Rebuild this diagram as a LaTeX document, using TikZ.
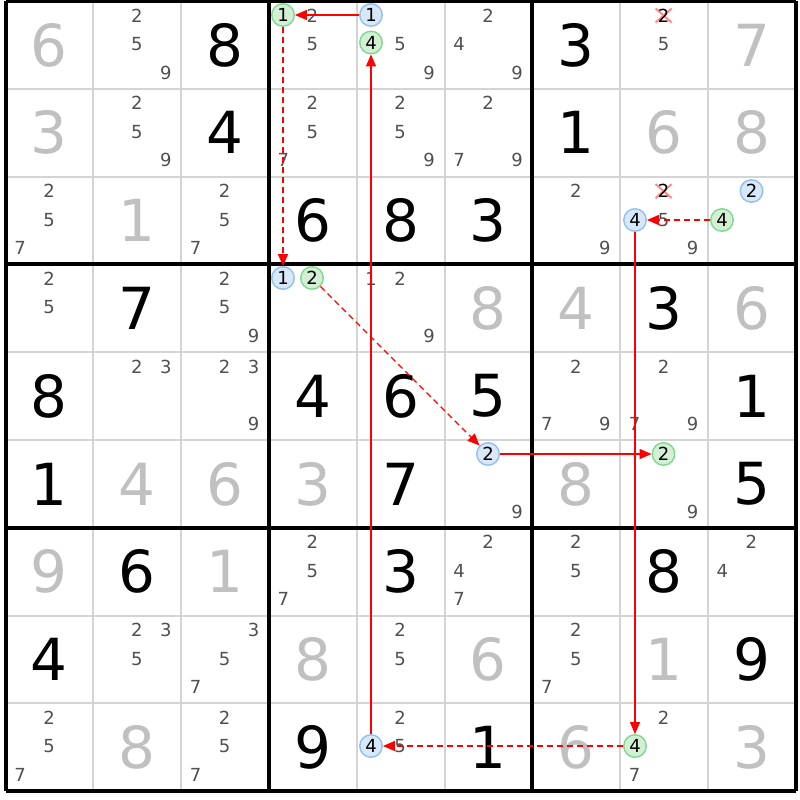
\documentclass[tikz,border=0pt]{standalone}
\usepackage{fontspec}
\setmainfont{DejaVu Sans}
\usetikzlibrary{arrows.meta}
\definecolor{candgray}{HTML}{505050}
\definecolor{givgray}{HTML}{C0C0C0}
\definecolor{gridgray}{HTML}{D4D4D4}
\definecolor{bfill}{HTML}{D8E8F8}
\definecolor{bdraw}{HTML}{90C0F0}
\definecolor{gfill}{HTML}{D4F0D4}
\definecolor{gdraw}{HTML}{80D890}
\definecolor{linkred}{HTML}{FF0000}
\def\CS{87.8}
\def\OX{5.5}
\def\OY{1}
\newcommand\bd[4]{\node[bigdig,text=#4] (n#1#2) at ({\OX+(#2+0.5)*\CS},{\OY+(#1+0.5)*\CS}) {#3};}
\newcommand\cand[3]{\node[cand] (c#1#2#3) at ({\OX+#2*\CS+43.5+(mod(#3-1,3)-1)*29},{\OY+#1*\CS+43+(floor((#3-1)/3)-1)*28.5}) {#3};}
\newcommand\cands[3]{\foreach \dd in {#3}{\cand{#1}{#2}{\dd}}}
\newcommand\xcand[3]{\coordinate (x#1#2#3) at ({\OX+#2*\CS+43.5+(mod(#3-1,3)-1)*29},{\OY+#1*\CS+43+(floor((#3-1)/3)-1)*28.5});
 \draw[xmark] (x#1#2#3) ++(-8,-7) -- ++(16,14) (x#1#2#3) ++(-8,7) -- ++(16,-14);
 \node[cand,text=black] (c#1#2#3) at (x#1#2#3) {#3};}
\begin{document}
\begin{tikzpicture}[x=1pt,y=-1pt,
  bigdig/.style={font=\fontsize{58}{58}\selectfont, inner sep=0pt},
  cand/.style={font=\fontsize{18}{18}\selectfont, text=candgray, inner sep=0pt},
  circ/.style={circle, line width=1.4pt, minimum size=22.5pt, inner sep=0pt, font=\fontsize{18}{18}\selectfont, text=black},
  bluec/.style={circ, draw=bdraw, fill=bfill},
  greenc/.style={circ, draw=gdraw, fill=gfill},
  xmark/.style={draw=red!45, line width=2pt},
  thinl/.style={draw=gridgray, line width=2pt},
  thickl/.style={draw=black, line width=4pt, line cap=square},
  chainS/.style={draw=linkred, color=linkred, line width=1.3pt, -{Triangle[length=12pt,width=10pt]}},
  chainW/.style={chainS, dash pattern=on 6pt off 4pt}]
\useasboundingbox (0,0) rectangle (800,800);
\fill[white] (0,0) rectangle (800,800);
\foreach \i in {1,2,4,5,7,8}{
  \draw[thinl] ({\OX+\i*\CS},\OY) -- ({\OX+\i*\CS},{\OY+9*\CS});
  \draw[thinl] (\OX,{\OY+\i*\CS}) -- ({\OX+9*\CS},{\OY+\i*\CS});
}
% big digits
\bd{0}{0}{6}{givgray}\bd{0}{2}{8}{black}\bd{0}{6}{3}{black}\bd{0}{8}{7}{givgray}
\bd{1}{0}{3}{givgray}\bd{1}{2}{4}{black}\bd{1}{6}{1}{black}\bd{1}{7}{6}{givgray}\bd{1}{8}{8}{givgray}
\bd{2}{1}{1}{givgray}\bd{2}{3}{6}{black}\bd{2}{4}{8}{black}\bd{2}{5}{3}{black}
\bd{3}{1}{7}{black}\bd{3}{5}{8}{givgray}\bd{3}{6}{4}{givgray}\bd{3}{7}{3}{black}\bd{3}{8}{6}{givgray}
\bd{4}{0}{8}{black}\bd{4}{3}{4}{black}\bd{4}{4}{6}{black}\bd{4}{5}{5}{black}\bd{4}{8}{1}{black}
\bd{5}{0}{1}{black}\bd{5}{1}{4}{givgray}\bd{5}{2}{6}{givgray}\bd{5}{3}{3}{givgray}\bd{5}{4}{7}{black}\bd{5}{6}{8}{givgray}\bd{5}{8}{5}{black}
\bd{6}{0}{9}{givgray}\bd{6}{1}{6}{black}\bd{6}{2}{1}{givgray}\bd{6}{4}{3}{black}\bd{6}{7}{8}{black}
\bd{7}{0}{4}{black}\bd{7}{3}{8}{givgray}\bd{7}{5}{6}{givgray}\bd{7}{7}{1}{givgray}\bd{7}{8}{9}{black}
\bd{8}{1}{8}{givgray}\bd{8}{3}{9}{black}\bd{8}{5}{1}{black}\bd{8}{6}{6}{givgray}\bd{8}{8}{3}{givgray}
% candidates
\cands{0}{1}{2,5,9}\cands{0}{3}{2,5}\cands{0}{4}{5,9}\cands{0}{5}{2,4,9}\cands{0}{7}{5}
\cands{1}{1}{2,5,9}\cands{1}{3}{2,5,7}\cands{1}{4}{2,5,9}\cands{1}{5}{2,7,9}
\cands{2}{0}{2,5,7}\cands{2}{2}{2,5,7}\cands{2}{6}{2,9}\cands{2}{7}{5,9}
\cands{3}{0}{2,5}\cands{3}{2}{2,5,9}\cands{3}{4}{1,2,9}
\cands{4}{1}{2,3}\cands{4}{2}{2,3,9}\cands{4}{6}{2,7,9}\cands{4}{7}{2,7,9}
\cands{5}{5}{9}\cands{5}{7}{9}
\cands{6}{3}{2,5,7}\cands{6}{5}{2,4,7}\cands{6}{6}{2,5}\cands{6}{8}{2,4}
\cands{7}{1}{2,3,5}\cands{7}{2}{3,5,7}\cands{7}{4}{2,5}\cands{7}{6}{2,5,7}
\cands{8}{0}{2,5,7}\cands{8}{2}{2,5,7}\cands{8}{4}{2,5}\cands{8}{7}{2,7}
% crossed candidates
\xcand{0}{7}{2}\xcand{2}{7}{2}
% thick lines
\foreach \i in {0,3,6,9}{
  \draw[thickl] ({\OX+\i*\CS},\OY) -- ({\OX+\i*\CS},{\OY+9*\CS});
  \draw[thickl] (\OX,{\OY+\i*\CS}) -- ({\OX+9*\CS},{\OY+\i*\CS});
}
% circled candidates
\node[greenc] (A) at (283,15) {1};
\node[bluec]  (B) at (371,15) {1};
\node[greenc] (C) at (371,42.5) {4};
\node[bluec]  (D) at (283,278) {1};
\node[greenc] (E) at (312,278) {2};
\node[bluec]  (F) at (488,454) {2};
\node[greenc] (G) at (663.5,454) {2};
\node[bluec]  (H) at (635,220) {4};
\node[bluec]  (I) at (751.5,191) {2};
\node[greenc] (J) at (722,220) {4};
\node[bluec]  (K) at (371,746) {4};
\node[greenc] (L) at (635,746) {4};
% chain
\draw[chainS] (B) -- (A);
\draw[chainW] (A) -- (D);
\draw[chainW] (E) -- (F);
\draw[chainS] (F) -- (G);
\draw[chainW] (J) -- (H);
\draw[chainS] (H) -- (L);
\draw[chainW] (L) -- (K);
\draw[chainS] (K) -- (C);
\end{tikzpicture}
\end{document}
